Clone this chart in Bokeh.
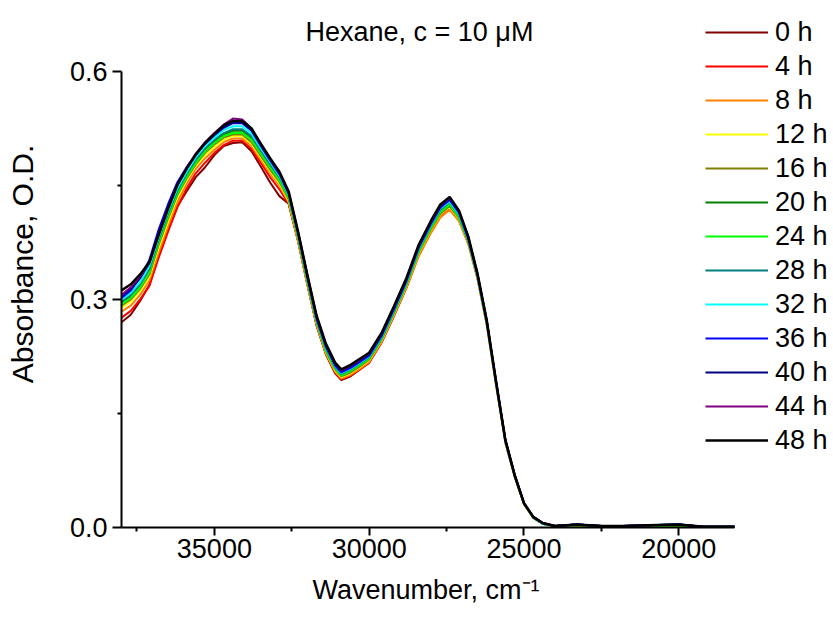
from bokeh.plotting import figure
from bokeh.models import Range1d, FixedTicker, Legend, LegendItem, NumeralTickFormatter, Label, Title
from bokeh.embed import file_html
from bokeh.resources import INLINE

# ---- data ----
wavenumber = [38000, 37700, 37400, 37100, 36800, 36500, 36200, 35900, 35600, 35300,
              35000, 34700, 34400, 34100, 33800, 33500, 33200, 32900, 32600, 32300,
              32000, 31700, 31400, 31100, 30900, 30600, 30300, 30000, 29600, 29200,
              28800, 28400, 28000, 27700, 27400, 27100, 26800, 26500, 26200, 25900,
              25600, 25300, 25000, 24700, 24400, 24000, 23300, 22500, 21800, 21000,
              20000, 19200, 18200]

abs_0h = [0.270, 0.280, 0.298, 0.319, 0.357, 0.391, 0.422, 0.442, 0.461, 0.474,
          0.490, 0.502, 0.506, 0.507, 0.495, 0.475, 0.454, 0.436, 0.426, 0.378,
          0.321, 0.266, 0.228, 0.203, 0.194, 0.199, 0.208, 0.217, 0.244, 0.279,
          0.316, 0.359, 0.390, 0.410, 0.419, 0.405, 0.375, 0.328, 0.267, 0.188,
          0.112, 0.067, 0.031, 0.013, 0.005, 0.002, 0.003, 0.002, 0.001, 0.002,
          0.003, 0.001, 0.000]
abs_4h = [0.276, 0.285, 0.300, 0.318, 0.355, 0.389, 0.421, 0.446, 0.466, 0.480,
          0.493, 0.503, 0.509, 0.509, 0.498, 0.480, 0.461, 0.445, 0.426, 0.377,
          0.320, 0.266, 0.229, 0.204, 0.195, 0.200, 0.208, 0.217, 0.243, 0.278,
          0.315, 0.358, 0.389, 0.409, 0.419, 0.404, 0.374, 0.328, 0.267, 0.188,
          0.112, 0.067, 0.031, 0.013, 0.005, 0.002, 0.003, 0.001, 0.002, 0.002,
          0.003, 0.001, 0.001]
abs_8h = [0.284, 0.292, 0.306, 0.325, 0.362, 0.396, 0.428, 0.452, 0.472, 0.486,
          0.497, 0.507, 0.512, 0.512, 0.502, 0.484, 0.466, 0.450, 0.428, 0.378,
          0.321, 0.267, 0.229, 0.205, 0.196, 0.201, 0.209, 0.218, 0.244, 0.279,
          0.315, 0.357, 0.388, 0.408, 0.418, 0.403, 0.373, 0.327, 0.266, 0.187,
          0.112, 0.067, 0.031, 0.013, 0.005, 0.002, 0.003, 0.002, 0.001, 0.002,
          0.003, 0.001, 0.001]
abs_12h = [0.289, 0.297, 0.311, 0.330, 0.368, 0.402, 0.434, 0.457, 0.476, 0.490,
           0.501, 0.510, 0.515, 0.515, 0.505, 0.487, 0.469, 0.453, 0.430, 0.380,
           0.323, 0.269, 0.231, 0.207, 0.198, 0.203, 0.211, 0.220, 0.246, 0.281,
           0.318, 0.361, 0.392, 0.412, 0.422, 0.406, 0.375, 0.328, 0.267, 0.188,
           0.113, 0.068, 0.031, 0.013, 0.005, 0.002, 0.003, 0.002, 0.002, 0.003,
           0.003, 0.001, 0.001]
abs_16h = [0.292, 0.300, 0.314, 0.333, 0.372, 0.406, 0.437, 0.459, 0.478, 0.493,
           0.504, 0.513, 0.517, 0.517, 0.507, 0.489, 0.471, 0.455, 0.432, 0.381,
           0.324, 0.270, 0.232, 0.208, 0.199, 0.204, 0.212, 0.221, 0.247, 0.282,
           0.319, 0.362, 0.393, 0.413, 0.423, 0.407, 0.376, 0.329, 0.268, 0.189,
           0.113, 0.068, 0.031, 0.013, 0.005, 0.002, 0.003, 0.002, 0.002, 0.002,
           0.003, 0.001, 0.001]
abs_20h = [0.296, 0.304, 0.318, 0.338, 0.377, 0.411, 0.441, 0.463, 0.482, 0.497,
           0.508, 0.517, 0.522, 0.522, 0.512, 0.494, 0.476, 0.459, 0.435, 0.384,
           0.326, 0.272, 0.234, 0.210, 0.201, 0.207, 0.215, 0.223, 0.249, 0.284,
           0.321, 0.364, 0.396, 0.416, 0.426, 0.409, 0.377, 0.330, 0.269, 0.190,
           0.114, 0.068, 0.032, 0.013, 0.005, 0.002, 0.004, 0.002, 0.002, 0.003,
           0.003, 0.001, 0.001]
abs_24h = [0.294, 0.302, 0.316, 0.336, 0.375, 0.409, 0.439, 0.461, 0.480, 0.495,
           0.506, 0.515, 0.519, 0.519, 0.510, 0.492, 0.474, 0.457, 0.434, 0.383,
           0.325, 0.271, 0.233, 0.209, 0.200, 0.206, 0.214, 0.222, 0.248, 0.283,
           0.320, 0.363, 0.395, 0.415, 0.425, 0.408, 0.377, 0.330, 0.269, 0.189,
           0.113, 0.068, 0.031, 0.013, 0.005, 0.002, 0.003, 0.002, 0.002, 0.002,
           0.003, 0.001, 0.001]
abs_28h = [0.297, 0.306, 0.320, 0.340, 0.379, 0.413, 0.443, 0.465, 0.484, 0.499,
           0.510, 0.519, 0.524, 0.524, 0.515, 0.496, 0.478, 0.461, 0.437, 0.385,
           0.328, 0.273, 0.236, 0.211, 0.202, 0.208, 0.216, 0.224, 0.250, 0.285,
           0.322, 0.366, 0.398, 0.418, 0.428, 0.411, 0.378, 0.331, 0.270, 0.190,
           0.114, 0.068, 0.032, 0.013, 0.005, 0.002, 0.004, 0.002, 0.002, 0.003,
           0.004, 0.001, 0.001]
abs_32h = [0.300, 0.309, 0.323, 0.344, 0.382, 0.416, 0.446, 0.468, 0.487, 0.502,
           0.513, 0.523, 0.528, 0.528, 0.518, 0.499, 0.481, 0.463, 0.438, 0.386,
           0.329, 0.274, 0.237, 0.212, 0.203, 0.209, 0.217, 0.225, 0.251, 0.286,
           0.323, 0.367, 0.399, 0.420, 0.429, 0.412, 0.379, 0.331, 0.270, 0.191,
           0.114, 0.069, 0.032, 0.014, 0.005, 0.002, 0.004, 0.002, 0.002, 0.003,
           0.004, 0.001, 0.001]
abs_36h = [0.302, 0.312, 0.329, 0.352, 0.392, 0.425, 0.454, 0.474, 0.491, 0.505,
           0.516, 0.526, 0.532, 0.532, 0.522, 0.502, 0.483, 0.465, 0.439, 0.387,
           0.330, 0.275, 0.238, 0.213, 0.204, 0.210, 0.218, 0.226, 0.252, 0.287,
           0.324, 0.368, 0.400, 0.421, 0.431, 0.414, 0.380, 0.332, 0.271, 0.191,
           0.115, 0.069, 0.032, 0.014, 0.006, 0.002, 0.004, 0.002, 0.002, 0.003,
           0.004, 0.001, 0.001]
abs_40h = [0.305, 0.314, 0.328, 0.348, 0.387, 0.421, 0.451, 0.472, 0.490, 0.505,
           0.517, 0.527, 0.533, 0.533, 0.523, 0.504, 0.485, 0.467, 0.441, 0.389,
           0.332, 0.277, 0.240, 0.215, 0.206, 0.212, 0.220, 0.228, 0.254, 0.289,
           0.326, 0.370, 0.402, 0.423, 0.433, 0.416, 0.382, 0.333, 0.271, 0.192,
           0.115, 0.069, 0.032, 0.014, 0.006, 0.002, 0.004, 0.002, 0.002, 0.003,
           0.004, 0.001, 0.001]
abs_44h = [0.306, 0.316, 0.330, 0.348, 0.385, 0.420, 0.451, 0.473, 0.492, 0.507,
           0.519, 0.530, 0.538, 0.537, 0.525, 0.504, 0.485, 0.467, 0.441, 0.389,
           0.333, 0.278, 0.241, 0.216, 0.207, 0.213, 0.221, 0.229, 0.255, 0.290,
           0.327, 0.371, 0.403, 0.424, 0.434, 0.417, 0.382, 0.333, 0.272, 0.192,
           0.115, 0.069, 0.032, 0.014, 0.006, 0.002, 0.004, 0.002, 0.002, 0.003,
           0.004, 0.001, 0.001]
abs_48h = [0.312, 0.320, 0.333, 0.349, 0.385, 0.419, 0.450, 0.472, 0.491, 0.506,
           0.518, 0.529, 0.535, 0.535, 0.525, 0.505, 0.486, 0.468, 0.442, 0.390,
           0.333, 0.279, 0.242, 0.217, 0.208, 0.214, 0.222, 0.230, 0.256, 0.291,
           0.328, 0.372, 0.404, 0.425, 0.435, 0.417, 0.383, 0.334, 0.272, 0.192,
           0.115, 0.069, 0.032, 0.014, 0.006, 0.002, 0.004, 0.002, 0.002, 0.003,
           0.004, 0.001, 0.001]

series_labels = ["0 h", "4 h", "8 h", "12 h", "16 h", "20 h", "24 h",
                 "28 h", "32 h", "36 h", "40 h", "44 h", "48 h"]
series_values = [abs_0h, abs_4h, abs_8h, abs_12h, abs_16h, abs_20h, abs_24h,
                 abs_28h, abs_32h, abs_36h, abs_40h, abs_44h, abs_48h]
series_colors = ["#800000", "#FF0000", "#FF8000", "#FFFF00", "#808000", "#008000",
                 "#00FF00", "#008080", "#00FFFF", "#0000FF", "#000080", "#800080",
                 "#000000"]

title_text = "Hexane, c = 10 \u03bcM"
x_label = "Wavenumber, cm\u207b\u00b9"
y_label = "Absorbance, O.D."
x_axis_span = (38000, 18200)
y_axis_span = (0.0, 0.6)
x_ticks = [35000, 30000, 25000, 20000]
x_minor_ticks = [37500, 32500, 27500, 22500]
y_ticks = [0.0, 0.3, 0.6]
y_minor_ticks = [0.15, 0.45]

FONT = "Liberation Sans"

# ---- layout: the frame spans the canvas to the right and top so the legend
# and title (which sit outside the drawn axes) are not clipped ----
W, H = 833, 617
AX_LEFT, AX_RIGHT, AX_TOP, AX_BOTTOM = 121, 734, 71, 527
px_per_x = (AX_RIGHT - AX_LEFT) / (x_axis_span[0] - x_axis_span[1])
x_end = x_axis_span[1] - (W - AX_RIGHT) / px_per_x
px_per_y = (AX_BOTTOM - AX_TOP) / (y_axis_span[1] - y_axis_span[0])
y_end = y_axis_span[1] + AX_TOP / px_per_y

p = figure(width=W, height=H, output_backend="svg", toolbar_location=None,
           title=None,
           x_range=Range1d(x_axis_span[0], x_end), y_range=Range1d(0, y_end),
           min_border_left=AX_LEFT, min_border_right=0, min_border_top=0,
           min_border_bottom=H - AX_BOTTOM)
p.outline_line_color = None
p.xgrid.visible = False
p.ygrid.visible = False
p.background_fill_color = "white"
p.border_fill_color = "white"

renderers = []
for vals, col in zip(series_values, series_colors):
    r = p.line(wavenumber, vals, line_color=col,
               line_width=2.5 if col == "#000000" else 2)
    renderers.append(r)

for ax in (p.xaxis[0], p.yaxis[0]):
    ax.axis_line_width = 2
    ax.axis_line_color = "black"
    ax.major_tick_line_color = "black"
    ax.minor_tick_line_color = "black"
    ax.major_tick_line_width = 2
    ax.minor_tick_line_width = 2
    ax.major_tick_in = 0
    ax.minor_tick_in = 0
    ax.major_label_text_font = FONT
    ax.major_label_text_font_size = "27px"
    ax.major_label_text_color = "black"
    ax.axis_label_text_font = FONT
    ax.axis_label_text_font_style = "normal"
    ax.axis_label_text_color = "black"

p.xaxis.bounds = (x_axis_span[1], x_axis_span[0])
p.xaxis.ticker = FixedTicker(ticks=x_ticks, minor_ticks=x_minor_ticks)
p.xaxis.formatter = NumeralTickFormatter(format="0")
p.xaxis.major_tick_out = 8
p.xaxis.minor_tick_out = 4
p.xaxis.major_label_standoff = 3

# x-axis label: a below-panel title, so it can be centred under the drawn axis
xlab = Title(text=x_label, align="left", offset=191, standoff=25,
             text_font=FONT, text_font_size="27px", text_font_style="normal",
             text_color="black")
p.add_layout(xlab, "below")

p.yaxis.bounds = y_axis_span
p.yaxis.ticker = FixedTicker(ticks=y_ticks, minor_ticks=y_minor_ticks)
p.yaxis.formatter = NumeralTickFormatter(format="0.0")
p.yaxis.major_tick_out = 9
p.yaxis.minor_tick_out = 4
p.yaxis.major_label_standoff = 5
p.yaxis.axis_label = y_label
p.yaxis.axis_label_text_font_size = "30px"
p.yaxis.axis_label_standoff = 28

title = Label(x=184, y=AX_BOTTOM - 31, x_units="screen", y_units="screen",
              text=title_text, text_font=FONT, text_font_size="27px",
              text_color="black", text_baseline="middle", text_align="left")
p.add_layout(title)

legend = Legend(
    items=[LegendItem(label=lab, renderers=[r]) for lab, r in zip(series_labels, renderers)],
    location=(584, 70), padding=0, margin=0, spacing=0,
    glyph_width=63, glyph_height=34, label_height=34, label_standoff=7,
    border_line_color=None, background_fill_alpha=0,
    label_text_font=FONT, label_text_font_size="27px", label_text_color="black",
)
p.add_layout(legend)

open("out.html", "w").write(file_html(p, INLINE))
